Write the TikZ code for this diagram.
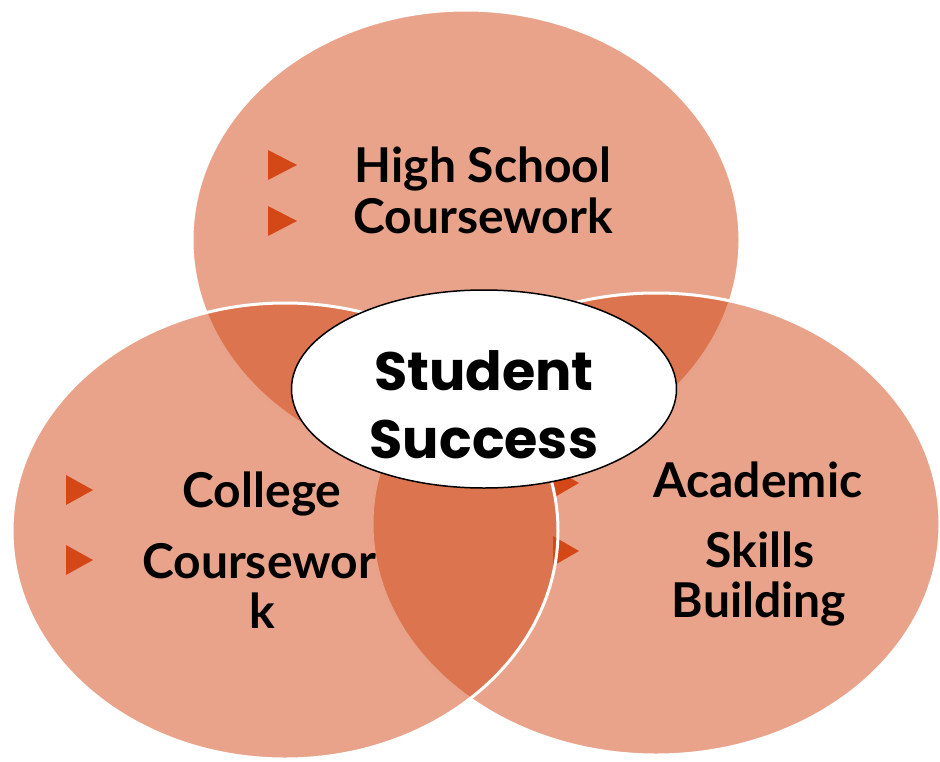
\documentclass[tikz,border=0pt]{standalone}
\usepackage{fontspec}
\setmainfont{Lato}
\newfontfamily\popfont{Poppins}
\usetikzlibrary{shapes.geometric}
\definecolor{venncol}{RGB}{209,71,21}
\definecolor{bulcol}{RGB}{212,72,24}

\begin{document}
\begin{tikzpicture}[x=1pt,y=-1pt,
  venn/.style={fill=venncol,fill opacity=0.5,draw=white,line width=3pt},
  label/.style={font=\fontsize{48}{56}\selectfont\bfseries,anchor=base,inner sep=0pt},
  bullet/.style={fill=bulcol},
  core/.style={ellipse,draw=black,line width=1.5pt,fill=white,inner sep=0pt,
    minimum width=385pt,minimum height=198pt},
  coretext/.style={font=\popfont\fontsize{54}{62}\selectfont\bfseries,anchor=base,inner sep=0pt}]
\useasboundingbox (0,0) rectangle (940,761);

% top circle
\draw[venn] (466,240) ellipse [x radius=274pt, y radius=230pt];
\foreach \Point in {(268,165),(268,221)}{
  \fill[bullet] \Point +(0,-15) -- +(29,0) -- +(0,15) -- cycle;
}
\node[label] (hs) at (483,182) {High School};
\node[label] (cw) at (483,233) {Coursework};

% right circle
\draw[venn] (656,524) ellipse [x radius=284pt, y radius=231pt];
\foreach \Point in {(553,483),(553,551)}{
  \fill[bullet] \Point +(0,-15) -- +(26,0) -- +(0,15) -- cycle;
}
\node[label] (ac) at (758,497) {Academic};
\node[label] (sk) at (760,567) {Skills};
\node[label] (bu) at (759,617) {Building};

% left circle
\draw[venn] (285,531) ellipse [x radius=273pt, y radius=228pt];
\foreach \Point in {(66,490),(66,560)}{
  \fill[bullet] \Point +(0,-15) -- +(27,0) -- +(0,15) -- cycle;
}
\node[label] (co) at (262,507) {College};
\node[label] (cw2) at (259,578) {Coursewor};
\node[label] (k) at (262,628) {k};

% middle
\node[core] (mid) at (484,389) {};
\node[coretext] (st) at (484,390) {Student};
\node[coretext] (su) at (484,458) {Success};
\end{tikzpicture}
\end{document}
